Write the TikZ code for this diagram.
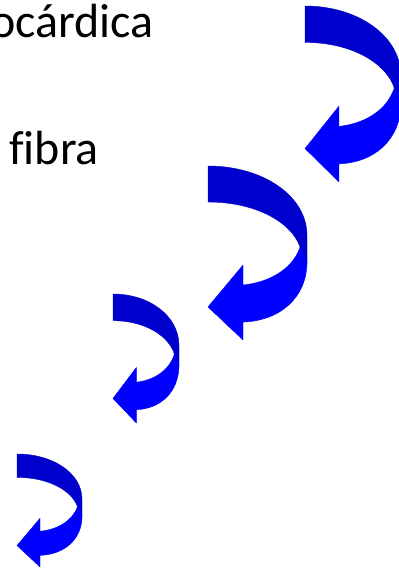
\documentclass[tikz,border=0pt]{standalone}
\usepackage{fontspec}
\setmainfont{Carlito}[Ligatures=CommonOff]
\definecolor{arrdark}{RGB}{0,0,204}
\definecolor{arrbright}{RGB}{0,0,255}
\tikzset{
  backband/.style={fill=arrdark, draw=arrdark, line width=0.4pt, line join=round},
  frontband/.style={fill=arrbright, draw=arrbright, line width=0.4pt, line join=round},
  lbl/.style={anchor=base west, inner sep=0pt, font=\fontsize{48}{58}\selectfont}
}
\newcommand{\curvedarrowshape}[4]{%
  \begin{scope}[shift={(#1,568-#2)}, xscale=#3, yscale=-#4]
    \fill[backband] (0,0) .. controls (0.55,0) and (1,0.17) .. (1,0.4) -- (1,0.56)
      -- (0.93,0.466) .. controls (0.85,0.33) and (0.5,0.207) .. (0,0.207) -- cycle;
    \fill[frontband] (0.93,0.466) -- (1,0.55) .. controls (1,0.76) and (0.72,0.89) .. (0.354,0.897)
      -- (0.354,1) -- (0,0.81) -- (0.354,0.569) -- (0.354,0.684)
      .. controls (0.6,0.67) and (0.85,0.6) .. (0.93,0.466) -- cycle;
  \end{scope}}
\begin{document}
\begin{tikzpicture}[x=1pt,y=1pt]
  \useasboundingbox (0,0) rectangle (399,568);
  \node[lbl] (t1) at (-10,530) {ocárdica};
  \node[lbl] (t2) at (9,403) {fibra};
  \curvedarrowshape{305}{6}{96}{176}
  \curvedarrowshape{208}{166}{99}{174}
  \curvedarrowshape{113}{294}{66}{129}
  \curvedarrowshape{17}{454}{65}{113}
\end{tikzpicture}
\end{document}
